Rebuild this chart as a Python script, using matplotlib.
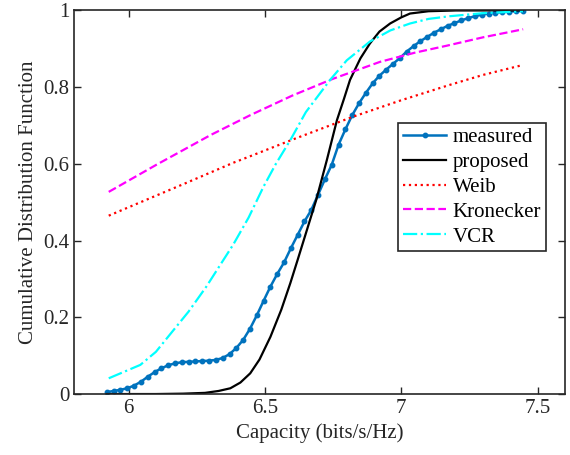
import matplotlib
matplotlib.use('Agg')
import matplotlib.pyplot as plt

# measured CDF
cap_meas = [5.920, 5.945, 5.970, 5.995, 6.020, 6.045, 6.070, 6.095, 6.120, 6.145,
            6.170, 6.195, 6.220, 6.245, 6.270, 6.295, 6.320, 6.345, 6.370, 6.395,
            6.420, 6.445, 6.470, 6.495, 6.520, 6.545, 6.570, 6.595, 6.620, 6.645,
            6.670, 6.695, 6.720, 6.745, 6.770, 6.795, 6.820, 6.845, 6.870, 6.895,
            6.920, 6.945, 6.970, 6.995, 7.020, 7.045, 7.070, 7.095, 7.120, 7.145,
            7.170, 7.195, 7.220, 7.245, 7.270, 7.295, 7.320, 7.345, 7.370, 7.395,
            7.420, 7.445]
cdf_meas = [0.005, 0.008, 0.011, 0.015, 0.022, 0.032, 0.045, 0.057, 0.067, 0.075,
            0.080, 0.083, 0.084, 0.085, 0.086, 0.087, 0.089, 0.094, 0.104, 0.120,
            0.141, 0.170, 0.205, 0.243, 0.280, 0.313, 0.343, 0.380, 0.415, 0.450,
            0.480, 0.520, 0.560, 0.598, 0.650, 0.690, 0.727, 0.758, 0.785, 0.810,
            0.830, 0.846, 0.861, 0.876, 0.893, 0.907, 0.920, 0.931, 0.942, 0.951,
            0.960, 0.967, 0.974, 0.980, 0.985, 0.989, 0.992, 0.994, 0.996, 0.997,
            0.998, 0.999]

cap_prop = [5.92, 6.10, 6.20, 6.28, 6.33, 6.373, 6.41, 6.446, 6.48, 6.52, 6.56,
            6.593, 6.62, 6.654, 6.688, 6.727, 6.764, 6.79, 6.812, 6.85, 6.885,
            6.92, 6.959, 7.00, 7.032, 7.10, 7.20, 7.445]
cdf_prop = [0.0, 0.0, 0.001, 0.003, 0.008, 0.015, 0.03, 0.054, 0.09, 0.149, 0.22,
            0.289, 0.35, 0.428, 0.506, 0.61, 0.714, 0.77, 0.819, 0.875, 0.914,
            0.945, 0.966, 0.982, 0.992, 0.998, 1.0, 1.0]

cap_weib = [5.927, 6.10, 6.20, 6.384, 6.446, 6.60, 6.823, 7.00, 7.178, 7.30, 7.447]
cdf_weib = [0.465, 0.517, 0.547, 0.603, 0.620, 0.663, 0.723, 0.766, 0.806, 0.832, 0.858]

cap_kron = [5.927, 6.10, 6.20, 6.30, 6.446, 6.60, 6.75, 6.922, 7.05, 7.166, 7.30, 7.447]
cdf_kron = [0.527, 0.597, 0.636, 0.675, 0.727, 0.778, 0.822, 0.866, 0.890, 0.908, 0.930, 0.951]

cap_vcr = [5.927, 6.043, 6.10, 6.165, 6.22, 6.285, 6.33, 6.384, 6.44, 6.495, 6.54,
           6.593, 6.65, 6.739, 6.80, 6.885, 6.96, 7.032, 7.10, 7.178, 7.30, 7.447]
cdf_vcr = [0.041, 0.076, 0.11, 0.167, 0.215, 0.28, 0.33, 0.39, 0.46, 0.541, 0.60,
           0.662, 0.735, 0.819, 0.87, 0.919, 0.948, 0.966, 0.978, 0.985, 0.993, 0.998]

plt.rcParams['font.family'] = ['Liberation Serif', 'DejaVu Serif']
plt.rcParams['font.size'] = 15

fig = plt.figure(figsize=(5.7, 4.55), dpi=100)
ax = fig.add_axes([0.130, 0.134, 0.861, 0.843])

ax.plot(cap_meas, cdf_meas, '-o', color='#0072BD', lw=1.8, ms=3.2, label='measured')
ax.plot(cap_prop, cdf_prop, '-', color='black', lw=1.6, label='proposed')
ax.plot(cap_weib, cdf_weib, ':', color='red', lw=1.6, label='Weib')
ax.plot(cap_kron, cdf_kron, '--', color='magenta', lw=1.6, label='Kronecker')
ax.plot(cap_vcr, cdf_vcr, '-.', color='cyan', lw=1.6, label='VCR')

ax.set_xlim(5.8, 7.6)
ax.set_ylim(0, 1)
ax.set_xticks([6, 6.5, 7, 7.5])
ax.set_xticklabels(['6', '6.5', '7', '7.5'])
ax.set_yticks([0, 0.2, 0.4, 0.6, 0.8, 1])
ax.set_yticklabels(['0', '0.2', '0.4', '0.6', '0.8', '1'])
ax.tick_params(direction='in', length=5, width=1, top=True, right=True, colors='#262626')
for s in ax.spines.values():
    s.set_linewidth(1.2)
    s.set_color('#262626')

ax.set_xlabel('Capacity (bits/s/Hz)', color='#262626')
ax.set_ylabel('Cumulative Distribution Function', color='#262626')

leg = ax.legend(loc='upper right', bbox_to_anchor=(0.961, 0.706), borderaxespad=0,
                fancybox=False, framealpha=1, edgecolor='#262626', handlelength=2.1,
                handletextpad=0.3, labelspacing=0.25, borderpad=0.22, fontsize=15)
leg.get_frame().set_linewidth(1.2)

fig.savefig('out.png', dpi=100)
